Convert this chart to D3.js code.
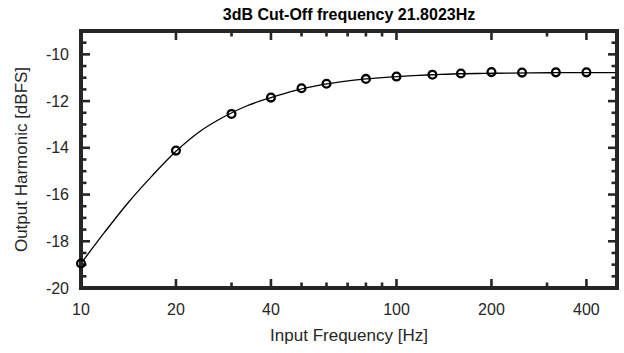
<!DOCTYPE html>
<html><head><meta charset="utf-8">
<script src="https://cdn.jsdelivr.net/npm/d3@7"></script>
<style>body{margin:0;background:#fff}svg{display:block}text{font-family:"Liberation Sans",Arial,sans-serif}</style>
</head><body>
<script>
const titleText = "3dB Cut-Off frequency 21.8023Hz";
const xLabel = "Input Frequency [Hz]";
const yLabel = "Output Harmonic [dBFS]";
// measured points
const freqs = [10, 20, 30, 40, 50, 60, 80, 100, 130, 160, 200, 250, 320, 400];
const levels = [-18.95, -14.12, -12.55, -11.85, -11.45, -11.26, -11.05, -10.95, -10.87, -10.82, -10.76, -10.78, -10.77, -10.77];
// fitted curve
const fitFreqs = [10, 11.9, 14.1, 16.8, 20, 23.8, 28.3, 33.6, 40, 47.6, 56.6, 67.3, 80, 95, 113, 135, 160, 190, 226, 269, 320, 400, 500];
const fitLevels = [-18.95, -17.6, -16.35, -15.2, -14.15, -13.3, -12.68, -12.2, -11.85, -11.55, -11.33, -11.17, -11.05, -10.97, -10.91, -10.865, -10.83, -10.815, -10.8, -10.79, -10.785, -10.78, -10.78];
const xMajorTicks = [10, 20, 40, 100, 200, 400];
const xMinorTicks = [30, 50, 60, 70, 80, 90, 300];
const yMajorTicks = [-20, -18, -16, -14, -12, -10];
const yDomain = [-20, -9];
const xDomain = [10, 500];

const W = 624, H = 353;
const L = 81, R = 617, T = 31, B = 288;
const ink = "#262626";
const svg = d3.select("body").append("svg").attr("width", W).attr("height", H);
const x = d3.scaleLog().domain(xDomain).range([L, R]);
const y = d3.scaleLinear().domain(yDomain).range([B, T]);

const yMinor = d3.range(-20, -8.9, 0.5).filter(v => !yMajorTicks.includes(v) && v > -20 && v < -9);
const tickW = 2.6, majLen = 9, minLen = 5.5;
const g = svg.append("g");
function xt(list, len) {
  list.forEach(v => {
    const px = x(v);
    g.append("line").attr("x1", px).attr("x2", px).attr("y1", B).attr("y2", B - len).attr("stroke", ink).attr("stroke-width", tickW);
    g.append("line").attr("x1", px).attr("x2", px).attr("y1", T).attr("y2", T + len).attr("stroke", ink).attr("stroke-width", tickW);
  });
}
function yt(list, len) {
  list.forEach(v => {
    const py = y(v);
    g.append("line").attr("x1", L).attr("x2", L + len).attr("y1", py).attr("y2", py).attr("stroke", ink).attr("stroke-width", tickW);
    g.append("line").attr("x1", R).attr("x2", R - len).attr("y1", py).attr("y2", py).attr("stroke", ink).attr("stroke-width", tickW);
  });
}
xt(xMajorTicks, majLen); xt(xMinorTicks, minLen);
yt(yMajorTicks, majLen); yt(yMinor, minLen);

const line = d3.line().x(d => x(d[0])).y(d => y(d[1])).curve(d3.curveMonotoneX);
svg.append("path").datum(fitFreqs.map((f, i) => [f, fitLevels[i]]))
  .attr("d", line).attr("fill", "none").attr("stroke", "#000").attr("stroke-width", 1.3);

svg.append("rect").attr("x", L).attr("y", T).attr("width", R - L).attr("height", B - T)
  .attr("fill", "none").attr("stroke", ink).attr("stroke-width", 4);

svg.append("g").selectAll("circle").data(freqs.map((f, i) => [f, levels[i]])).join("circle")
  .attr("cx", d => x(d[0])).attr("cy", d => y(d[1])).attr("r", 3.9)
  .attr("fill", "none").attr("stroke", "#000").attr("stroke-width", 2.3);

svg.append("g").selectAll("text").data(xMajorTicks).join("text")
  .attr("x", d => x(d)).attr("y", 315).attr("text-anchor", "middle")
  .attr("font-size", 16).attr("fill", ink).text(d => d);
svg.append("g").selectAll("text").data(yMajorTicks).join("text")
  .attr("x", 69).attr("y", d => y(d) + 5.5).attr("text-anchor", "end")
  .attr("font-size", 16).attr("fill", ink).text(d => d);

svg.append("text").attr("x", (L + R) / 2).attr("y", 341).attr("text-anchor", "middle")
  .attr("font-size", 17).attr("fill", ink).text(xLabel);
svg.append("text").attr("transform", `translate(27,${(T + B) / 2}) rotate(-90)`).attr("text-anchor", "middle")
  .attr("font-size", 17).attr("fill", ink).text(yLabel);
svg.append("text").attr("x", (L + R) / 2).attr("y", 20).attr("text-anchor", "middle")
  .attr("font-size", 16).attr("font-weight", "bold").attr("fill", "#000").text(titleText);
</script>
</body></html>
